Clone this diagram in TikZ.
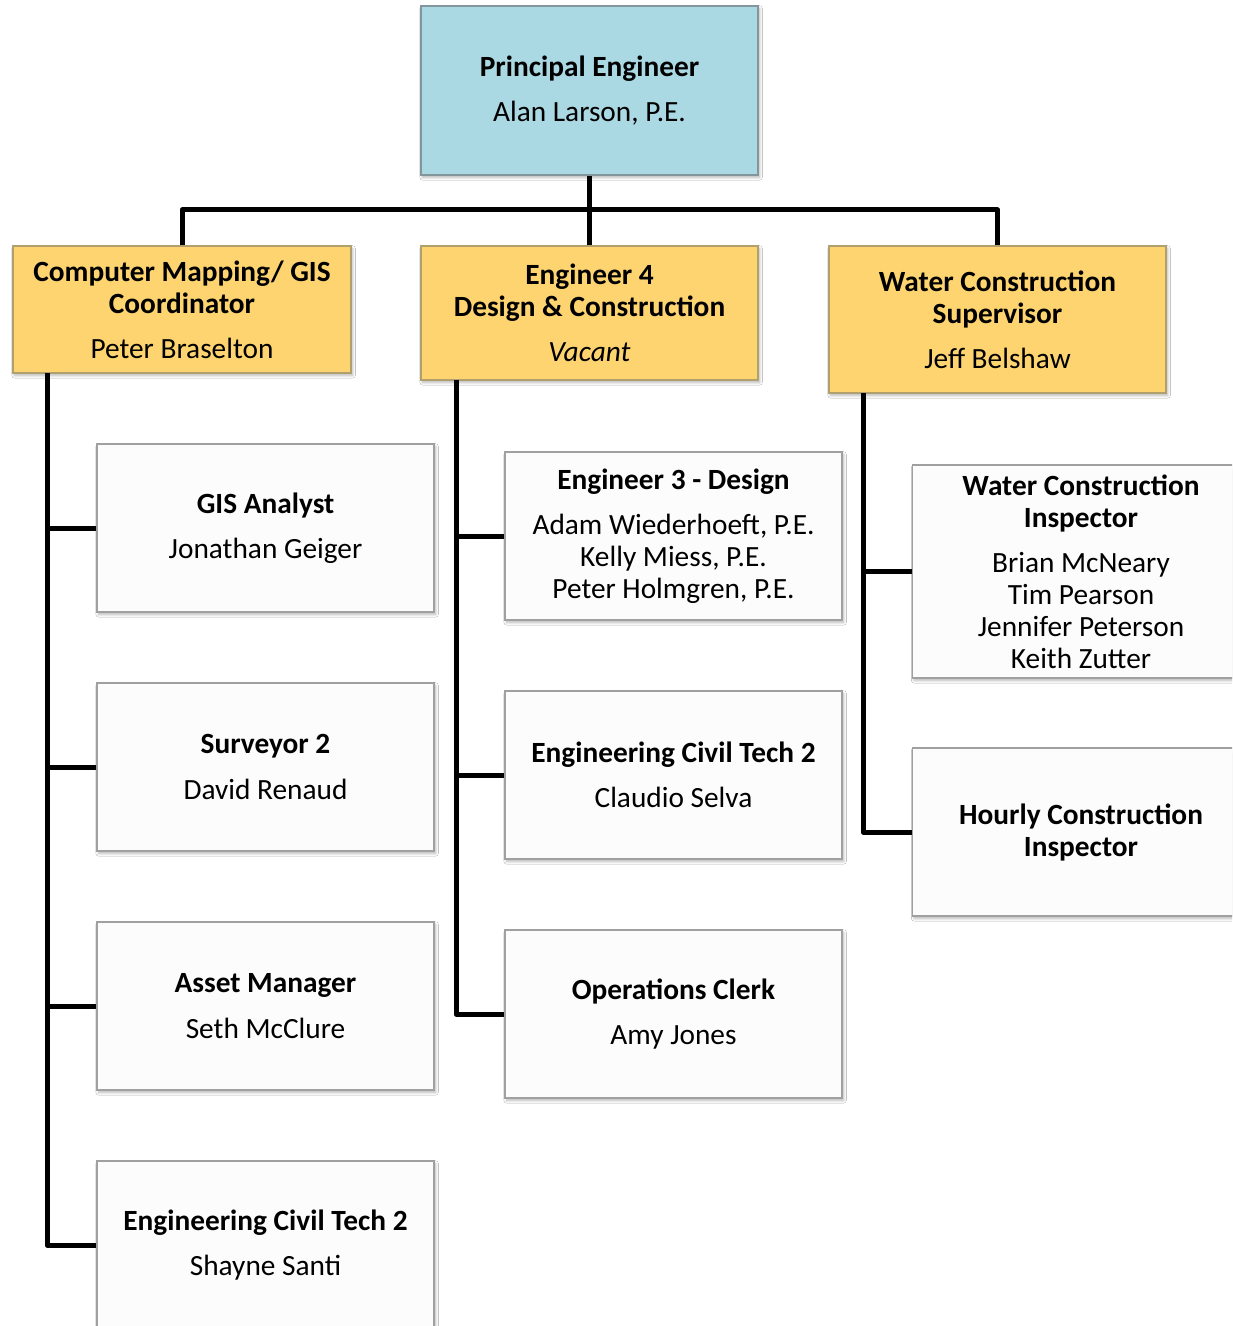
\documentclass[tikz,border=0pt]{standalone}
\usepackage{fontspec}
\setmainfont{Carlito}
\usetikzlibrary{shadows.blur}
\definecolor{pblue}{RGB}{170,216,227}
\definecolor{pyellow}{RGB}{253,212,111}
\definecolor{bluebd}{RGB}{130,150,156}
\definecolor{yellowbd}{RGB}{175,160,110}
\definecolor{whitebd}{RGB}{160,160,160}
\definecolor{whitefill}{RGB}{252,252,252}
\tikzset{
  box/.style={rectangle, align=center, inner sep=2pt, line width=1.1pt,
    font=\fontsize{22}{24}\selectfont,
    blur shadow={shadow xshift=1.2pt, shadow yshift=-1.8pt, shadow blur steps=8, shadow opacity=30, shadow blur radius=2pt}},
  bluebox/.style={box, draw=bluebd, fill=pblue},
  yelbox/.style={box, draw=yellowbd, fill=pyellow},
  whbox/.style={box, draw=whitebd, fill=whitefill},
  conn/.style={line width=3.75pt, black, line join=round, line cap=butt},
}
\begin{document}
\begin{tikzpicture}[x=0.75pt,y=-0.75pt]
\useasboundingbox (0,0) rectangle (1232,1326);
\clip (0,0) rectangle (1232,1326);
\fill[white] (0,0) rectangle (1232,1326);

\coordinate (bar) at (589.5,210);
\coordinate (gl) at (47,373);
\coordinate (ml) at (456,380);
\coordinate (rl) at (863,393);

% top
\node[bluebox, minimum width=252.75pt, minimum height=126.75pt] (pe) at (589.5,90.5)
  {\textbf{Principal Engineer}\\[10pt]Alan Larson, P.E.};

% level 2
\node[yelbox, minimum width=253.5pt, minimum height=95.25pt] (gis) at (182,309.5)
  {\textbf{Computer Mapping/ GIS}\\\textbf{Coordinator}\\[10pt]Peter Braselton};
\node[yelbox, minimum width=252.75pt, minimum height=100.5pt] (eng4) at (589.5,313)
  {\textbf{Engineer 4}\\\textbf{Design \& Construction}\\[10pt]\textit{Vacant}};
\node[yelbox, minimum width=252.75pt, minimum height=110.25pt] (wcs) at (997.5,319.5)
  {\textbf{Water Construction}\\\textbf{Supervisor}\\[10pt]Jeff Belshaw};

% left column
\node[whbox, minimum width=252.75pt, minimum height=126pt] (gisan) at (265.5,528)
  {\textbf{GIS Analyst}\\[10pt]Jonathan Geiger};
\node[whbox, minimum width=252.75pt, minimum height=126pt] (surv) at (265.5,767)
  {\textbf{Surveyor 2}\\[10pt]David Renaud};
\node[whbox, minimum width=252.75pt, minimum height=126pt] (asset) at (265.5,1006)
  {\textbf{Asset Manager}\\[10pt]Seth McClure};
\node[whbox, minimum width=252.75pt, minimum height=126pt] (ectl) at (265.5,1245)
  {\textbf{Engineering Civil Tech 2}\\[10pt]Shayne Santi};

% middle column
\node[whbox, minimum width=252.75pt, minimum height=126pt] (eng3) at (673.5,536)
  {\textbf{Engineer 3 - Design}\\[10pt]Adam Wiederhoeft, P.E.\\Kelly Miess, P.E.\\Peter Holmgren, P.E.};
\node[whbox, minimum width=252.75pt, minimum height=126pt] (ectm) at (673.5,775)
  {\textbf{Engineering Civil Tech 2}\\[10pt]Claudio Selva};
\node[whbox, minimum width=252.75pt, minimum height=126pt] (ops) at (673.5,1014)
  {\textbf{Operations Clerk}\\[10pt]Amy Jones};

% right column
\node[whbox, minimum width=252.75pt, minimum height=159.75pt] (wci) at (1081,571.5)
  {\textbf{Water Construction}\\\textbf{Inspector}\\[10pt]Brian McNeary\\Tim Pearson\\Jennifer Peterson\\Keith Zutter};
\node[whbox, minimum width=252.75pt, minimum height=126pt] (hci) at (1081,832)
  {\textbf{Hourly Construction}\\\textbf{Inspector}};

% connectors
\draw[conn] (pe.south) -- (bar);
\draw[conn] (eng4.north) -- (bar);
\draw[conn] (gis.north) |- (bar);
\draw[conn] (wcs.north) |- (bar);

\draw[conn] (gl) |- (ectl.west);
\draw[conn] (gisan.west) -- (gisan.west -| gl);
\draw[conn] (surv.west) -- (surv.west -| gl);
\draw[conn] (asset.west) -- (asset.west -| gl);

\draw[conn] (ml) |- (ops.west);
\draw[conn] (eng3.west) -- (eng3.west -| ml);
\draw[conn] (ectm.west) -- (ectm.west -| ml);

\draw[conn] (rl) |- (hci.west);
\draw[conn] (wci.west) -- (wci.west -| rl);
\end{tikzpicture}
\end{document}
